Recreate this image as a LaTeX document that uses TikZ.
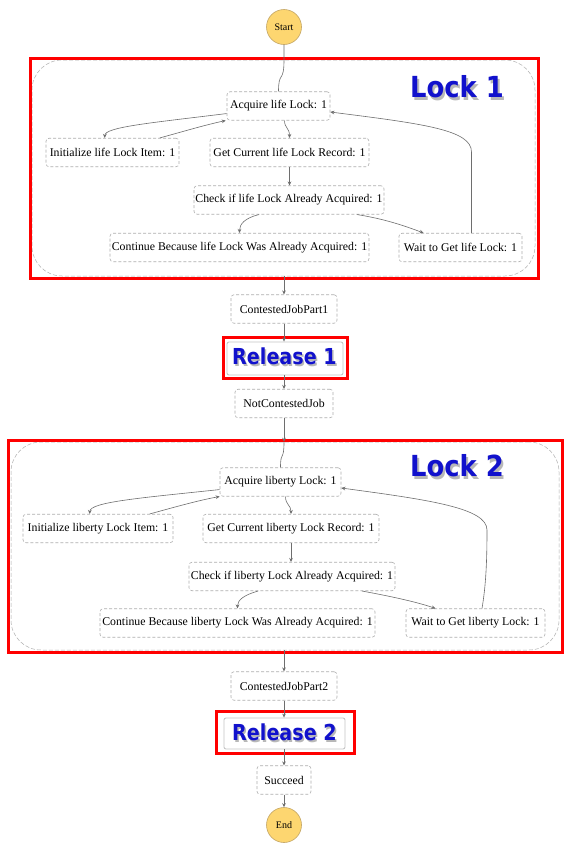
\documentclass[tikz,border=0pt]{standalone}
\usepackage{fontspec}
\usetikzlibrary{arrows.meta,calc}
\newfontfamily\statefont{Liberation Serif}
\newfontfamily\lockfont{DejaVu Sans}
\definecolor{lockblue}{RGB}{17,17,204}
\definecolor{flowgray}{RGB}{110,110,110}
\definecolor{boxgray}{RGB}{175,175,175}
\definecolor{termfill}{RGB}{253,214,112}
\definecolor{termdraw}{RGB}{195,165,100}
\tikzset{
  statebox/.style={draw=boxgray, dash pattern=on 3pt off 2pt, line width=0.6pt,
    rounded corners=3pt, fill=white, inner sep=0pt, minimum height=28.5pt,
    font=\statefont\fontsize{11.8}{14}\selectfont, text=black},
  terminal/.style={circle, draw=termdraw, fill=termfill, line width=0.6pt,
    minimum size=35pt, inner sep=0pt, font=\statefont\fontsize{10}{12}\selectfont},
  container/.style={draw=boxgray, dash pattern=on 4pt off 2pt, line width=0.5pt,
    rounded corners=30pt, inner sep=0pt},
  redbox/.style={draw=red, line width=3pt},
  relbox/.style={draw=gray!45, line width=0.9pt, rounded corners=2pt, fill=white,
    inner sep=0pt},
  biglabel/.style={font=\lockfont\bfseries\fontsize{29}{30}\selectfont, text=lockblue, inner sep=0pt},
  bigshadow/.style={font=\lockfont\bfseries\fontsize{29}{30}\selectfont, text=black, opacity=0.28, inner sep=0pt},
  midlabel/.style={font=\lockfont\bfseries\fontsize{22}{24}\selectfont, text=lockblue, inner sep=0pt},
  midshadow/.style={font=\lockfont\bfseries\fontsize{22}{24}\selectfont, text=black, opacity=0.28, inner sep=0pt},
  flow/.style={draw=flowgray, line width=0.6pt},
  arr/.style={flow, -{Stealth[length=4pt,width=3.6pt]}}
}
\begin{document}
\begin{tikzpicture}[x=1pt,y=-1pt]
\useasboundingbox (0,0) rectangle (569,854);
\fill[white] (0,0) rectangle (569,854);

% containers
\node[container, minimum width=503pt, minimum height=216pt] (lock1) at (283.5,168) {};
\node[container, minimum width=548pt, minimum height=208pt] (lock2) at (285,546) {};

% terminals
\node[terminal] (start) at (284,27) {Start};
\node[terminal] (end) at (284,825) {End};

% Lock 1 states
\node[statebox, minimum width=103pt] (acq1) at (278.5,106) {Acquire life Lock: 1};
\node[statebox, minimum width=133pt] (init1) at (112.5,152.5) {Initialize life Lock Item: 1};
\node[statebox, minimum width=159pt] (get1) at (289.5,152.5) {Get Current life Lock Record: 1};
\node[statebox, minimum width=190pt] (chk1) at (289,200) {Check if life Lock Already Acquired: 1};
\node[statebox, minimum width=259pt] (cont1) at (239.5,247.5) {Continue Because life Lock Was Already Acquired: 1};
\node[statebox, minimum width=123pt] (wait1) at (460.5,247.5) {Wait to Get life Lock: 1};

% middle
\node[statebox, minimum width=106pt] (cjp1) at (284,309) {ContestedJobPart1};
\node[relbox, minimum width=116pt, minimum height=33pt] (rel1) at (285,358.5) {};
\node[statebox, minimum width=98pt] (ncj) at (284,403.5) {NotContestedJob};

% Lock 2 states
\node[statebox, minimum width=121pt] (acq2) at (280.5,482) {Acquire liberty Lock: 1};
\node[statebox, minimum width=150pt] (init2) at (98,528.5) {Initialize liberty Lock Item: 1};
\node[statebox, minimum width=176pt] (get2) at (291,528.5) {Get Current liberty Lock Record: 1};
\node[statebox, minimum width=206pt] (chk2) at (292,576.5) {Check if liberty Lock Already Acquired: 1};
\node[statebox, minimum width=275pt] (cont2) at (237.5,623) {Continue Because liberty Lock Was Already Acquired: 1};
\node[statebox, minimum width=139pt] (wait2) at (475.5,623) {Wait to Get liberty Lock: 1};

% bottom
\node[statebox, minimum width=106pt] (cjp2) at (284,686) {ContestedJobPart2};
\node[relbox, minimum width=121pt, minimum height=31pt] (rel2) at (284.5,733.5) {};
\node[statebox, minimum width=54pt] (succ) at (284,780) {Succeed};

% red highlight boxes
\draw[redbox] (30,58) rectangle (538,278);
\draw[redbox] (8,440) rectangle (562,652);
\draw[redbox] (223,337) rectangle (347,378);
\draw[redbox] (216,711) rectangle (354,753);

% connectors: main line
\draw[flow] (start) -- (start.south |- lock1.north)
  .. controls (284,84) and (278.5,70) .. (acq1.north);
\draw[arr] (cjp1.north |- lock1.south) -- (cjp1.north);
\draw[arr] (cjp1.south) -- (cjp1.south |- rel1.north);
\draw[arr] (cjp1.south |- rel1.south) -- (ncj.north);
\draw[arr] (ncj.south) -- (ncj.south |- lock2.north);
\draw[flow] (ncj.south |- lock2.north) .. controls (284,462) and (280.5,450) .. (acq2.north);
\draw[arr] (cjp2.north |- lock2.south) -- (cjp2.north);
\draw[arr] (cjp2.south) -- (cjp2.south |- rel2.north);
\draw[arr] (cjp2.south |- rel2.south) -- (succ.north);
\draw[arr] (succ.south) -- (end.north);

% Lock 1 connectors
\draw[arr] ($(acq1.south west)+(0,-7)$) .. controls (150,123) and (105,127) .. ($(init1.north west)+(59,0)$);
\draw[arr] ($(init1.north west)+(114,0)$) .. controls (185,131) and (205,125) .. ($(acq1.south west)+(-1,0)$);
\draw[arr] ($(acq1.south)+(6,0)$) .. controls (284.5,128) and (289.5,128) .. (get1.north);
\draw[arr] (get1.south) -- (get1.south |- chk1.north);
\draw[arr] ($(chk1.south)+(-30,0)$) .. controls (245,218) and (239.5,224) .. (cont1.north);
\draw[arr] ($(chk1.south)+(68,0)$) .. controls (385,219) and (405,226) .. ($(wait1.north)+(-37,0)$);
\draw[arr] ($(wait1.north)+(11,0)$) -- (471.5,152) .. controls (471.5,130) and (425,124) .. ($(acq1.east)+(0,6)$);

% Lock 2 connectors
\draw[arr] ($(acq2.south west)+(0,-7)$) .. controls (140,498) and (90,502) .. ($(init2.north west)+(67,0)$);
\draw[arr] ($(init2.north west)+(127,0)$) .. controls (175,507) and (200,500) .. ($(acq2.south west)+(0,0)$);
\draw[arr] ($(acq2.south)+(5,0)$) .. controls (285.5,505) and (291,505) .. (get2.north);
\draw[arr] (get2.south) -- (get2.south |- chk2.north);
\draw[arr] ($(chk2.south)+(-34,0)$) .. controls (244,595) and (237.5,600) .. (cont2.north);
\draw[arr] ($(chk2.south)+(70,0)$) .. controls (395,597) and (420,603) .. ($(wait2.north)+(-40,0)$);
\draw[arr] ($(wait2.north)+(6.5,0)$) .. controls (486,585) and (487,560) .. (487,530)
  .. controls (487,508) and (430,500) .. ($(acq2.east)+(0,6)$);

% big labels
\node[bigshadow] (lock1shadow) at (459,89.5) {\scalebox{0.89}[1]{Lock 1}};
\node[biglabel] (lock1label) at (457,87) {\scalebox{0.89}[1]{Lock 1}};
\node[bigshadow] (lock2shadow) at (459,468.5) {\scalebox{0.89}[1]{Lock 2}};
\node[biglabel] (lock2label) at (457,466) {\scalebox{0.89}[1]{Lock 2}};
\node[midshadow] (rel1shadow) at (286,358) {\scalebox{0.87}[1]{Release 1}};
\node[midlabel] (rel1label) at (284.5,356.5) {\scalebox{0.87}[1]{Release 1}};
\node[midshadow] (rel2shadow) at (286,734) {\scalebox{0.87}[1]{Release 2}};
\node[midlabel] (rel2label) at (284.5,732.5) {\scalebox{0.87}[1]{Release 2}};
\end{tikzpicture}
\end{document}
